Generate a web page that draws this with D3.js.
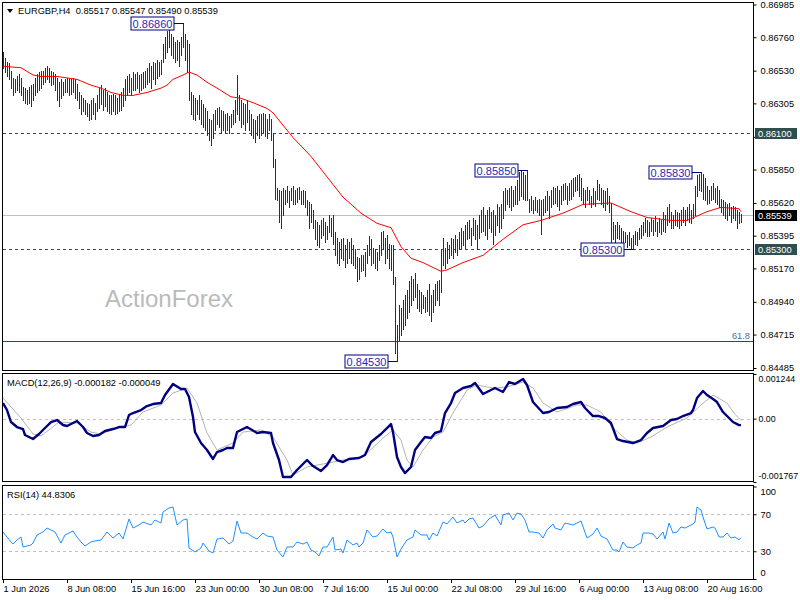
<!DOCTYPE html>
<html><head><meta charset="utf-8">
<script src="https://cdn.jsdelivr.net/npm/d3@7"></script>
<style>
body{margin:0;background:#fff;}
svg{display:block;}
</style></head><body>
<svg id="c" width="800" height="600"></svg>
<script>
// ---------- DATA ----------
const highs=[
.8666,.8662,.8659,.8658,.8653,.8648,.8647,.8649,.8651,.8648,
.8642,.8641,.8640,.8642,.8643,.8644,.8648,.8651,.8652,.8653,
.8653,.8655,.8656,.8655,.8653,.8652,.8651,.8648,.8645,.8647,
.8645,.8647,.8648,.8647,.8647,.8648,.8647,.8644,.8638,.8636,
.8634,.8633,.8631,.8630,.8633,.8634,.8631,.8636,.8641,.8643,
.8640,.8641,.8638,.8636,.8636,.8637,.8636,.8634,.8636,.8638,
.8641,.8647,.8649,.8651,.8648,.8652,.8651,.8652,.8650,.8651,
.8652,.8653,.8655,.8658,.8656,.8659,.8658,.8660,.8659,.8660,
.8671,.8676,.8680,.8681,.8678,.8676,.8673,.8674,.8673,.8676,
.8686,.8678,.8674,.8671,.8638,.8636,.8634,.8633,.8636,.8633,
.8630,.8627,.8625,.8620,.8619,.8623,.8626,.8627,.8628,.8626,
.8625,.8623,.8624,.8622,.8623,.8626,.8633,.8650,.8636,.8633,
.8631,.8630,.8633,.8626,.8623,.8620,.8619,.8622,.8623,.8623,
.8624,.8623,.8620,.8623,.8620,.8610,.8592,.8572,.8571,.8570,
.8572,.8571,.8574,.8570,.8572,.8574,.8571,.8572,.8573,.8570,
.8571,.8570,.8564,.8563,.8561,.8557,.8550,.8549,.8547,.8550,
.8552,.8549,.8546,.8554,.8552,.8554,.8542,.8538,.8535,.8537,
.8538,.8533,.8537,.8535,.8538,.8533,.8530,.8525,.8524,.8526,
.8526,.8528,.8533,.8539,.8537,.8531,.8530,.8528,.8533,.8542,
.8543,.8538,.8540,.8534,.8533,.8533,.8511,.8478,.8492,.8490,
.8495,.8499,.8502,.8508,.8512,.8510,.8514,.8506,.8502,.8501,
.8499,.8497,.8502,.8506,.8499,.8502,.8506,.8508,.8509,.8530,
.8538,.8531,.8535,.8533,.8538,.8537,.8540,.8537,.8542,.8545,
.8543,.8547,.8549,.8550,.8545,.8552,.8550,.8547,.8554,.8557,
.8559,.8554,.8557,.8559,.8556,.8557,.8554,.8561,.8559,.8561,
.8570,.8572,.8571,.8572,.8574,.8571,.8574,.8578,.8583,.8584,
.8583,.8581,.8585,.8565,.8567,.8564,.8566,.8564,.8565,.8564,
.8565,.8567,.8570,.8567,.8571,.8573,.8572,.8574,.8571,.8574,
.8575,.8576,.8574,.8576,.8578,.8579,.8580,.8581,.8582,.8579,
.8572,.8571,.8573,.8571,.8567,.8572,.8570,.8578,.8575,.8572,
.8571,.8570,.8572,.8567,.8562,.8549,.8547,.8549,.8547,.8545,
.8543,.8542,.8540,.8542,.8538,.8540,.8543,.8542,.8545,.8547,
.8549,.8552,.8550,.8549,.8552,.8550,.8553,.8549,.8552,.8550,
.8556,.8554,.8559,.8561,.8556,.8554,.8557,.8556,.8555,.8557,
.8559,.8557,.8559,.8561,.8557,.8561,.8574,.8581,.8582,.8583,
.8582,.8579,.8574,.8571,.8574,.8576,.8572,.8574,.8571,.8565,
.8564,.8563,.8561,.8562,.8559,.8560,.8559,.8557,.8556,.85547
];
const lows=[
.8655,.8652,.8649,.8647,.8641,.8636,.8638,.8640,.8638,.8636,
.8633,.8631,.8630,.8631,.8629,.8633,.8636,.8638,.8640,.8641,
.8644,.8645,.8647,.8645,.8643,.8644,.8640,.8633,.8629,.8634,
.8636,.8638,.8638,.8636,.8637,.8638,.8634,.8633,.8627,.8623,
.8625,.8623,.8622,.8619,.8620,.8623,.8620,.8625,.8627,.8630,
.8626,.8629,.8625,.8624,.8623,.8625,.8623,.8624,.8625,.8626,
.8629,.8633,.8636,.8638,.8636,.8640,.8640,.8641,.8638,.8640,
.8641,.8642,.8644,.8645,.8641,.8647,.8644,.8648,.8649,.8651,
.8659,.8662,.8666,.8669,.8664,.8662,.8659,.8660,.8656,.8664,
.8669,.8660,.8652,.8633,.8623,.8620,.8619,.8623,.8620,.8616,
.8614,.8612,.8609,.8605,.8602,.8607,.8612,.8616,.8614,.8610,
.8612,.8611,.8612,.8610,.8614,.8616,.8618,.8623,.8619,.8614,
.8616,.8612,.8618,.8612,.8609,.8607,.8604,.8609,.8607,.8609,
.8611,.8608,.8607,.8612,.8605,.8587,.8565,.8564,.8549,.8545,
.8554,.8561,.8563,.8559,.8564,.8561,.8561,.8563,.8565,.8561,
.8561,.8559,.8554,.8545,.8549,.8545,.8537,.8533,.8532,.8538,
.8540,.8535,.8537,.8542,.8539,.8534,.8526,.8521,.8519,.8524,
.8523,.8518,.8521,.8524,.8521,.8519,.8517,.8508,.8510,.8515,
.8516,.8512,.8521,.8526,.8519,.8521,.8517,.8516,.8523,.8526,
.8530,.8521,.8524,.8517,.8516,.8506,.8459,.8453,.8468,.8471,
.8475,.8478,.8483,.8487,.8492,.8495,.8497,.8490,.8488,.8486,
.8490,.8487,.8488,.8485,.8481,.8487,.8492,.8495,.8492,.8501,
.8519,.8517,.8521,.8524,.8526,.8524,.8528,.8526,.8530,.8531,
.8533,.8531,.8537,.8538,.8533,.8540,.8537,.8530,.8538,.8542,
.8543,.8540,.8537,.8545,.8542,.8534,.8540,.8547,.8542,.8545,
.8552,.8557,.8561,.8559,.8557,.8560,.8561,.8561,.8564,.8567,
.8565,.8564,.8564,.8556,.8557,.8555,.8557,.8556,.8554,.8541,
.8554,.8556,.8557,.8552,.8559,.8561,.8562,.8560,.8557,.8561,
.8564,.8565,.8561,.8564,.8565,.8567,.8570,.8571,.8567,.8564,
.8561,.8559,.8564,.8561,.8559,.8561,.8560,.8565,.8564,.8561,
.8559,.8557,.8561,.8556,.8535,.8537,.8535,.8538,.8537,.8533,
.8533,.8535,.8532,.8533,.8531,.8530,.8534,.8533,.8537,.8538,
.8540,.8542,.8539,.8539,.8543,.8540,.8543,.8539,.8542,.8541,
.8543,.8542,.8547,.8549,.8545,.8545,.8547,.8546,.8545,.8547,
.8549,.8547,.8550,.8549,.8548,.8552,.8554,.8567,.8571,.8570,
.8565,.8564,.8561,.8562,.8564,.8565,.8563,.8561,.8559,.8556,
.8554,.8552,.8550,.8554,.8549,.8552,.8550,.8545,.8548,.85490
];
const symbol="EURGBP,H4";
const lastBar=[0.85517,0.85547,0.85490,0.85539]; // open, high, low, close
const maPts=[[0,.8656],[9,.8655],[15,.8650],[19,.8649],[27,.8649],[37,.8647],[44,.8643],[49,.8641],[54,.8638],[60,.8636],[65,.8636],[72,.8638],[79,.8641],[82,.8643],[85,.8647],[90,.8650],[93,.8652],[97,.8650],[102,.8645],[107,.8641],[114,.8635],[119,.8634],[125,.8631],[132,.8627],[135,.8624],[145,.8607],[154,.8594],[162,.8580],[170,.8566],[179,.8555],[187,.8548],[194,.8545],[199,.8532],[204,.8524],[210,.8521],[219,.8515],[222,.8516],[230,.8521],[240,.8526],[250,.8537],[260,.8547],[269,.8550],[280,.8555],[290,.8561],[304,.8562],[314,.8556],[322,.8552],[334,.8550],[342,.8550],[347,.8553],[352,.8556],[359,.8559],[368,.8558],[369,.8556]];
const macdPts=[[0,.000435],[2,.000240],[4,-.000095],[7,-.000234],[10,-.000290],[11,-.000457],[15,-.000569],[18,-.000429],[21,-.000262],[24,-.000095],[27,-.000039],[30,-.000178],[32,-.000206],[35,-.000123],[37,-.000067],[40,-.000234],[42,-.000401],[45,-.000485],[48,-.000457],[51,-.000346],[55,-.000290],[58,-.000234],[61,-.000234],[63,.000100],[65,.000156],[69,.000240],[72,.000351],[75,.000407],[79,.000435],[81,.000658],[85,.000965],[89,.000825],[91,.000825],[93,.000602],[95,.000045],[96,-.000374],[99,-.000680],[102,-.000875],[105,-.001126],[107,-.000931],[110,-.000875],[112,-.000820],[115,-.000820],[117,-.000374],[122,-.000234],[127,-.000401],[130,-.000374],[134,-.000401],[135,-.000680],[138,-.001154],[140,-.001628],[144,-.001628],[147,-.001433],[152,-.001154],[155,-.001322],[159,-.001461],[162,-.001294],[165,-.001015],[167,-.001154],[170,-.001210],[173,-.001126],[178,-.001098],[181,-.001015],[184,-.000652],[189,-.000429],[194,-.000151],[195,-.000374],[197,-.001071],[199,-.001349],[201,-.001517],[204,-.001349],[206,-.000875],[209,-.000652],[211,-.000513],[214,-.000541],[216,-.000401],[219,-.000346],[221,.000156],[224,.000435],[226,.000714],[230,.000853],[234,.000909],[236,.000993],[240,.000686],[243,.000770],[246,.000853],[250,.000742],[253,.001020],[256,.000965],[260,.001104],[262,.000937],[265,.000463],[270,.000156],[273,.000184],[277,.000296],[282,.000323],[285,.000407],[289,.000463],[291,.000296],[295,.000072],[298,.000072],[301,.000017],[304,-.000123],[307,-.000569],[310,-.000625],[315,-.000680],[319,-.000597],[322,-.000401],[325,-.000262],[330,-.000206],[334,-.000039],[337,-.000011],[340,.000072],[344,.000156],[345,.000240],[347,.000574],[350,.000770],[352,.000658],[355,.000546],[357,.000463],[360,.000184],[363,.000017],[365,-.000095],[368,-.000182],[369,-.000182]];
const signalPts=[[0,.000574],[9,.000017],[15,-.000429],[19,-.000485],[28,-.000095],[37,-.000123],[44,-.000374],[49,-.000429],[57,-.000262],[64,-.000178],[70,.000184],[79,.000379],[85,.000714],[92,.000853],[97,.000435],[102,-.000401],[107,-.000875],[115,-.000680],[120,-.000374],[129,-.000318],[135,-.000513],[142,-.001154],[145,-.001572],[152,-.001349],[160,-.001266],[170,-.001154],[180,-.001071],[190,-.000541],[195,-.000318],[199,-.000597],[202,-.001154],[205,-.001349],[210,-.000875],[215,-.000513],[220,-.000374],[225,.000156],[232,.000797],[237,.000937],[245,.000853],[252,.000881],[260,.001020],[265,.000853],[270,.000435],[277,.000184],[287,.000379],[292,.000379],[299,.000184],[305,-.000262],[312,-.000597],[317,-.000680],[324,-.000513],[332,-.000234],[342,.000017],[349,.000379],[355,.000658],[362,.000435],[366,.000120],[369,-.000049]];
const rsiPts=[[0,50.8],[4,40.0],[5,37.8],[7,42.2],[9,45.4],[10,34.6],[14,36.8],[15,38.9],[17,47.6],[20,50.8],[22,55.1],[24,53.0],[26,50.8],[29,38.9],[31,47.6],[35,51.9],[37,45.4],[39,40.0],[41,35.7],[44,40.0],[46,41.1],[49,42.2],[52,50.8],[55,44.3],[58,49.7],[60,43.2],[63,64.9],[65,55.1],[68,58.4],[70,61.6],[74,58.4],[76,63.8],[79,60.5],[80,72.4],[83,76.8],[85,77.8],[87,58.4],[90,63.8],[92,64.9],[93,33.5],[96,29.2],[99,33.5],[100,38.9],[103,30.3],[105,28.1],[107,43.2],[110,44.3],[113,37.8],[115,41.1],[117,62.7],[119,49.7],[122,49.7],[125,45.4],[127,43.2],[130,49.7],[132,46.5],[135,45.4],[137,31.3],[140,23.8],[142,34.6],[145,34.6],[147,40.0],[150,37.8],[152,40.0],[154,31.3],[156,29.2],[158,24.9],[160,34.6],[162,34.6],[165,45.4],[166,31.3],[169,32.4],[170,28.1],[172,42.2],[175,36.8],[177,38.9],[178,34.6],[180,38.9],[182,53.0],[185,45.4],[187,46.5],[190,54.1],[192,49.7],[194,50.8],[195,45.4],[197,23.8],[199,32.4],[202,42.2],[205,45.4],[206,53.0],[209,47.6],[212,47.6],[213,42.2],[215,49.7],[217,46.5],[220,61.6],[222,59.5],[225,67.0],[227,60.5],[230,63.8],[231,60.5],[233,64.9],[235,65.9],[238,55.1],[240,57.3],[243,64.9],[246,69.2],[249,58.4],[250,69.2],[253,71.3],[255,63.8],[257,71.3],[259,70.3],[261,63.8],[263,50.8],[265,50.8],[268,49.7],[270,44.3],[272,53.0],[275,59.5],[276,55.1],[279,53.0],[281,60.5],[285,58.4],[287,60.5],[289,62.7],[292,44.3],[295,48.6],[297,55.1],[299,46.5],[302,43.2],[305,31.3],[307,31.3],[308,29.2],[310,40.0],[312,34.6],[315,33.5],[317,36.8],[319,38.9],[320,49.7],[323,49.7],[325,48.6],[327,43.2],[330,50.8],[331,43.2],[333,60.5],[335,49.7],[337,50.8],[339,56.2],[341,55.1],[345,59.5],[346,61.6],[347,77.8],[349,74.6],[350,67.0],[352,54.1],[355,56.2],[356,55.1],[358,45.4],[360,45.4],[362,49.7],[364,44.3],[366,45.4],[368,42.2],[369,44.8306]];
const priceTicks=[0.86985,0.86760,0.86530,0.86305,0.86075,0.85850,0.85620,0.85395,0.85170,0.84940,0.84715,0.84485];
const dateTickIdx=[0,32,64,96,128,160,192,224,256,288,320,352];
const dateTickLabels=["1 Jun 2026","8 Jun 08:00","15 Jun 16:00","23 Jun 00:00","30 Jun 08:00","7 Jul 16:00","15 Jul 00:00","22 Jul 08:00","29 Jul 16:00","6 Aug 00:00","13 Aug 08:00","20 Aug 16:00"];
const markIdx=[90,197,262,315,349];
const markVal=[0.86860,0.84530,0.85850,0.85300,0.85830];
const levelLines=[0.86100,0.85300];
const fibLevel=0.8467, fibLabel="61.8";
const macdTicks=[0.001244,0,-0.001767];
const rsiTicks=[100,70,30,0];
const rsiLevels=[70,30];
const watermark="ActionForex";

// ---------- DRAW ----------
const FONT='"Liberation Sans",Arial,sans-serif', FS=9.3;
const svg=d3.select('#c').attr('font-family',FONT);
const x=d3.scaleLinear().domain([0,369]).range([3,741]);
const y=d3.scaleLinear().domain([0.84485,0.86985]).range([368,4.5]);
const ym=d3.scaleLinear().domain([-0.001767,0.001244]).range([482,374]);
const yr=d3.scaleLinear().domain([0,100]).range([579,486.5]);
const px=v=>Math.round(v)+0.5;
const RX=753.5;

const defs=svg.append('defs');
function clip(id,y0,y1){defs.append('clipPath').attr('id',id).append('rect').attr('x',3).attr('y',y0).attr('width',750).attr('height',y1-y0);}
clip('cMain',3,370);clip('cMacd',374,481);clip('cRsi',486,579);

// main panel
const main=svg.append('g').attr('clip-path','url(#cMain)');
main.append('text').attr('x',105).attr('y',307).attr('font-size',24).attr('fill','#bababa').text(watermark);
main.selectAll('line.lvl').data(levelLines).join('line').attr('class','lvl')
  .attr('x1',3).attr('x2',RX).attr('y1',d=>px(y(d))).attr('y2',d=>px(y(d)))
  .attr('stroke','#2f4f4f').attr('stroke-dasharray','3,3');
main.append('line').attr('x1',3).attr('x2',RX).attr('y1',px(y(fibLevel))).attr('y2',px(y(fibLevel))).attr('stroke','#2f4f4f');
main.append('text').attr('x',750).attr('y',px(y(fibLevel))-3).attr('text-anchor','end').attr('font-size',FS).attr('fill','#4f6f8a').text(fibLabel);
main.append('line').attr('x1',3).attr('x2',RX).attr('y1',px(y(lastBar[3]))).attr('y2',px(y(lastBar[3]))).attr('stroke','#c0c0c0');
main.selectAll('line.bar').data(highs).join('line').attr('class','bar')
  .attr('x1',(d,i)=>px(x(i))).attr('x2',(d,i)=>px(x(i)))
  .attr('y1',d=>Math.round(y(d))).attr('y2',(d,i)=>Math.round(y(lows[i]))+1)
  .attr('stroke','#143552').attr('stroke-width',1).attr('shape-rendering','crispEdges');
main.append('path').datum(maPts).attr('d',d3.line().x(d=>x(d[0])).y(d=>y(d[1])))
  .attr('fill','none').attr('stroke','#ff0000').attr('stroke-width',1);

// annotations
markIdx.forEach((idx,k)=>{
  const cx=px(x(idx)), cy=px(y(markVal[k]));
  const right=cx-9.5, w=43, h=13;
  const g=svg.append('g');
  g.append('line').attr('x1',right).attr('x2',cx).attr('y1',cy).attr('y2',cy).attr('stroke','#000080');
  g.append('rect').attr('x',right-w).attr('y',cy-6.5).attr('width',w).attr('height',h).attr('fill','#fff').attr('stroke','#000080');
  g.append('text').attr('x',right-w/2).attr('y',cy+4).attr('text-anchor','middle').attr('font-size',11).attr('fill','#2a2ab4').text(markVal[k].toFixed(5));
});

// header
svg.append('path').attr('d','M7,9 L13,9 L10,13 Z').attr('fill','#000');
svg.append('text').attr('x',18).attr('y',14).attr('font-size',FS).attr('fill','#000')
  .attr('xml:space','preserve').text(symbol+'  '+lastBar.map(v=>v.toFixed(5)).join(' '));

// price axis (tick under the 0.86100 level box keeps its mark, its label is hidden by the box)
const hidden=new Set([0.86075]);
const ax=svg.append('g').attr('transform',`translate(${RX},0)`)
  .call(d3.axisRight(y).tickValues(priceTicks).tickFormat(d=>hidden.has(d)?'':d.toFixed(5)).tickSize(3).tickPadding(4));
ax.attr('font-size',FS).attr('font-family',FONT);
ax.select('.domain').remove();
ax.selectAll('text').attr('fill','#000');
ax.selectAll('line').attr('stroke','#000');
const boxes=[[levelLines[0],'#2f4f4f'],[lastBar[3],'#000'],[levelLines[1],'#2f4f4f']];
boxes.forEach(([v,bg])=>{
  const cy=y(v);
  svg.append('rect').attr('x',755).attr('y',Math.round(cy)-5).attr('width',42).attr('height',11).attr('fill',bg);
  svg.append('text').attr('x',758).attr('y',Math.round(cy)+4).attr('font-size',FS).attr('fill','#fff').text(v.toFixed(5));
});

// MACD panel
const mg=svg.append('g').attr('clip-path','url(#cMacd)');
mg.append('line').attr('x1',3).attr('x2',RX).attr('y1',px(ym(0))).attr('y2',px(ym(0))).attr('stroke','#c0c0c0').attr('stroke-dasharray','3,3');
mg.append('path').datum(signalPts).attr('d',d3.line().x(d=>x(d[0])).y(d=>ym(d[1])))
  .attr('fill','none').attr('stroke','#b4b4b4').attr('stroke-width',1);
mg.append('path').datum(macdPts).attr('d',d3.line().x(d=>x(d[0])).y(d=>ym(d[1])))
  .attr('fill','none').attr('stroke','#000080').attr('stroke-width',2.4).attr('stroke-linejoin','round');
svg.append('text').attr('x',7).attr('y',386).attr('font-size',FS).attr('fill','#000')
  .text(`MACD(12,26,9) ${macdPts[macdPts.length-1][1].toFixed(6)} ${signalPts[signalPts.length-1][1].toFixed(6)}`);
const axm=svg.append('g').attr('transform',`translate(${RX},0)`)
  .call(d3.axisRight(ym).tickValues(macdTicks).tickFormat(d=>d===0?'0.00':d.toFixed(6)).tickSize(3).tickPadding(2));
axm.attr('font-size',8.8).attr('font-family',FONT);
axm.select('.domain').remove();
axm.selectAll('text').attr('fill','#000').attr('y',d=>Math.max(379,Math.min(476,ym(d)))-ym(d));
axm.selectAll('line').attr('stroke','#000');

// RSI panel
const rg=svg.append('g').attr('clip-path','url(#cRsi)');
rg.selectAll('line.rl').data(rsiLevels).join('line').attr('class','rl')
  .attr('x1',3).attr('x2',RX).attr('y1',d=>px(yr(d))).attr('y2',d=>px(yr(d)))
  .attr('stroke','#c0c0c0').attr('stroke-dasharray','3,3');
rg.append('path').datum(rsiPts).attr('d',d3.line().x(d=>x(d[0])).y(d=>yr(d[1])))
  .attr('fill','none').attr('stroke','#1e90ff').attr('stroke-width',1);
svg.append('text').attr('x',7).attr('y',498).attr('font-size',FS).attr('fill','#000')
  .text(`RSI(14) ${rsiPts[rsiPts.length-1][1].toFixed(4)}`);
const axr=svg.append('g').attr('transform',`translate(${RX},0)`)
  .call(d3.axisRight(yr).tickValues(rsiTicks).tickFormat(d=>String(d)).tickSize(3).tickPadding(4));
axr.attr('font-size',FS).attr('font-family',FONT);
axr.select('.domain').remove();
axr.selectAll('text').attr('fill','#000').attr('y',d=>Math.max(492,Math.min(573,yr(d)))-yr(d));
axr.selectAll('line').attr('stroke','#000');

// x axis
const axx=svg.append('g').attr('transform','translate(0,579)')
  .call(d3.axisBottom(x).tickValues(dateTickIdx).tickFormat((d,i)=>dateTickLabels[i]).tickSize(4).tickPadding(2));
axx.attr('font-size',FS).attr('font-family',FONT);
axx.select('.domain').remove();
axx.selectAll('text').attr('fill','#000').attr('text-anchor','start');
axx.selectAll('line').attr('stroke','#000');

// frames
[[2.5,370.5],[373.5,481.5],[485.5,579.5]].forEach(([t,b])=>{
  svg.append('rect').attr('x',2.5).attr('y',t).attr('width',RX-2.5).attr('height',b-t)
    .attr('fill','none').attr('stroke','#000');
});
</script>
</body></html>
